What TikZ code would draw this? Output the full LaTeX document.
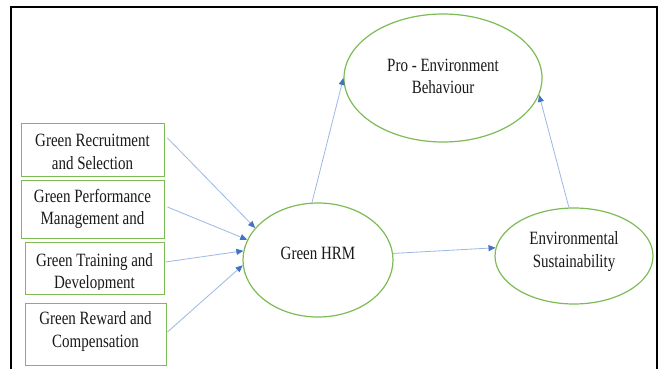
\documentclass[tikz,border=0pt]{standalone}
\usepackage{fontspec}
\setmainfont{Liberation Serif}
\usetikzlibrary{shapes.geometric,arrows.meta,calc}
\definecolor{gline}{HTML}{7DBB55}
\definecolor{bline}{HTML}{9CB8E6}
\definecolor{bhead}{HTML}{4472C4}
\definecolor{tcol}{HTML}{1A1A1A}
\tikzset{
  boxnode/.style={draw=gline,line width=0.9pt,rectangle,inner sep=0pt,fill=white},
  ellnode/.style={draw=gline,line width=1.2pt,ellipse,inner sep=0pt},
  txt/.style={align=center,text=tcol,font=\fontsize{15}{18}\selectfont,inner sep=0pt,yscale=1.25,transform shape},
  conn/.style={draw=bline,line width=0.8pt,-{Triangle[length=7pt,width=6pt,color=bhead]}}
}
\begin{document}
\begin{tikzpicture}[x=1pt,y=-1pt]
\useasboundingbox (0,0) rectangle (661,369);
\fill[white] (0,0) rectangle (661,369);
% frame
\draw[black,line width=2pt] (11,380) -- (11,7.5) -- (656.5,7.5) -- (656.5,380);
% boxes
\node[boxnode,minimum width=143pt,minimum height=53pt] (b1) at (92.5,149.5) {};
\node[boxnode,minimum width=143pt,minimum height=58pt] (b2) at (92.5,209) {};
\node[boxnode,minimum width=139pt,minimum height=52pt] (b3) at (94.5,268) {};
\node[boxnode,minimum width=141pt,minimum height=62pt] (b4) at (95.5,334) {};
\node[txt] (t1) at (92.5,152) {Green Recruitment\\and Selection};
\node[txt] (t2) at (92.5,209) {Green Performance\\Management and};
\begin{scope}
\clip (25,243) rectangle (164,289);
\node[txt] (t3) at (94.5,273) {Green Training and\\Development};
\end{scope}
\node[txt] (t4) at (95.5,331.5) {Green Reward and\\Compensation};
% ellipses
\node[ellnode,minimum width=198pt,minimum height=128pt] (pro) at (443,78) {};
\node[txt] (tpro) at (443,76.5) {Pro - Environment\\Behaviour};
\node[ellnode,minimum width=150pt,minimum height=114pt] (hrm) at (318,260) {};
\node[txt] (thrm) at (318,253) {Green HRM};
\node[ellnode,minimum width=158pt,minimum height=96pt] (env) at (574,256) {};
\node[txt] (tenv) at (574,251.5) {Environmental\\Sustainability};
% connectors
\draw[conn] ($(b1.east)+(3,-11.5)$) -- (hrm.153);
\draw[conn] ($(b2.east)+(3,-2)$) -- (hrm.164);
\draw[conn] ($(b3.east)+(1,-6)$) -- (hrm.173);
\draw[conn] ($(b4.east)+(1,-2)$) -- (hrm.184);
\draw[conn] (hrm.5) -- (env.174);
\draw[conn] (hrm.96) -- (pro.180);
\draw[conn] (env.96) -- (pro.350);
\end{tikzpicture}
\end{document}
